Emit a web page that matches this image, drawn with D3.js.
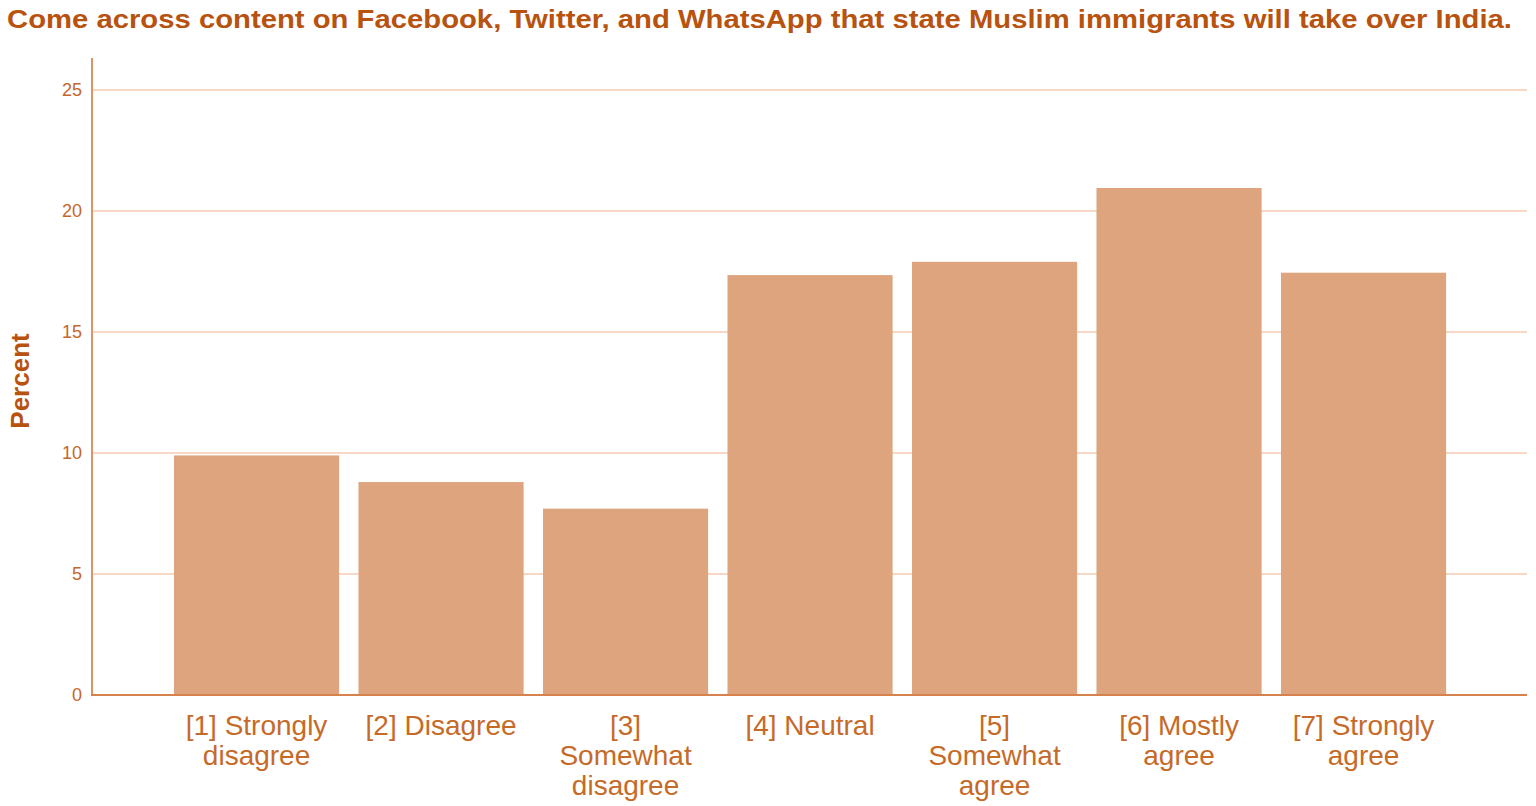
<!DOCTYPE html>
<html>
<head>
<meta charset="utf-8">
<script src="https://cdn.jsdelivr.net/npm/d3@7"></script>
<style>
  html, body { margin: 0; padding: 0; background: #fff; }
  svg { display: block; font-family: "Liberation Sans", Arial, sans-serif; }
</style>
</head>
<body>
<div id="chart"></div>
<script>
const width = 1536;
const height = 806;

const categories = [
  ["[1] Strongly", "disagree"],
  ["[2] Disagree"],
  ["[3]", "Somewhat", "disagree"],
  ["[4] Neutral"],
  ["[5]", "Somewhat", "agree"],
  ["[6] Mostly", "agree"],
  ["[7] Strongly", "agree"]
];
const percents = [9.9, 8.8, 7.7, 17.35, 17.9, 20.95, 17.45];
const yTicks = [0, 5, 10, 15, 20, 25];

const svg = d3.select("#chart").append("svg")
  .attr("width", width)
  .attr("height", height);

const x = d3.scaleBand()
  .domain(d3.range(categories.length))
  .range([164.3, 1455.8])
  .paddingInner(0.105)
  .paddingOuter(0.0525);

const y = d3.scaleLinear()
  .domain([0, 25])
  .range([695, 90]);

// title
svg.append("text")
  .attr("x", 7)
  .attr("y", 28)
  .attr("fill", "#b8520f")
  .attr("font-size", "25px")
  .attr("font-weight", "bold")
  .attr("textLength", 1505)
  .attr("lengthAdjust", "spacingAndGlyphs")
  .text("Come across content on Facebook, Twitter, and WhatsApp that state Muslim immigrants will take over India.");

// gridlines
svg.append("g")
  .selectAll("line")
  .data(yTicks.filter(d => d > 0))
  .join("line")
  .attr("x1", 92).attr("x2", 1527)
  .attr("y1", d => y(d)).attr("y2", d => y(d))
  .attr("stroke", "#f6d8c4")
  .attr("stroke-width", 2);

// bars
svg.append("g")
  .selectAll("rect")
  .data(percents)
  .join("rect")
  .attr("x", (d, i) => x(i))
  .attr("y", d => y(d))
  .attr("width", x.bandwidth())
  .attr("height", d => y(0) - y(d))
  .attr("fill", "#dda47e");

// y axis
const yAxis = svg.append("g")
  .attr("transform", "translate(92,0)")
  .call(d3.axisLeft(y).tickValues(yTicks).tickSize(0).tickPadding(10));
yAxis.select(".domain").remove();
yAxis.selectAll("text")
  .attr("fill", "#c4682a")
  .attr("font-size", "18px")
  .attr("font-family", "Liberation Sans, Arial, sans-serif");

svg.append("line")
  .attr("x1", 92).attr("x2", 92)
  .attr("y1", 58).attr("y2", 696)
  .attr("stroke", "#dc9466")
  .attr("stroke-width", 2);

svg.append("line")
  .attr("x1", 91).attr("x2", 1527)
  .attr("y1", y(0)).attr("y2", y(0))
  .attr("stroke", "#d5824c")
  .attr("stroke-width", 2);

// y label
svg.append("text")
  .attr("transform", "translate(29,381) rotate(-90)")
  .attr("text-anchor", "middle")
  .attr("fill", "#b8520f")
  .attr("font-size", "26px")
  .attr("font-weight", "bold")
  .text("Percent");

// category labels
const labels = svg.append("g")
  .selectAll("text")
  .data(categories)
  .join("text")
  .attr("x", (d, i) => x(i) + x.bandwidth() / 2)
  .attr("y", 735)
  .attr("text-anchor", "middle")
  .attr("fill", "#c66a28")
  .attr("font-size", "28px");

labels.selectAll("tspan")
  .data(d => d)
  .join("tspan")
  .attr("x", function() { return d3.select(this.parentNode).attr("x"); })
  .attr("dy", (d, i) => i === 0 ? 0 : 30)
  .text(d => d);
</script>
</body>
</html>
